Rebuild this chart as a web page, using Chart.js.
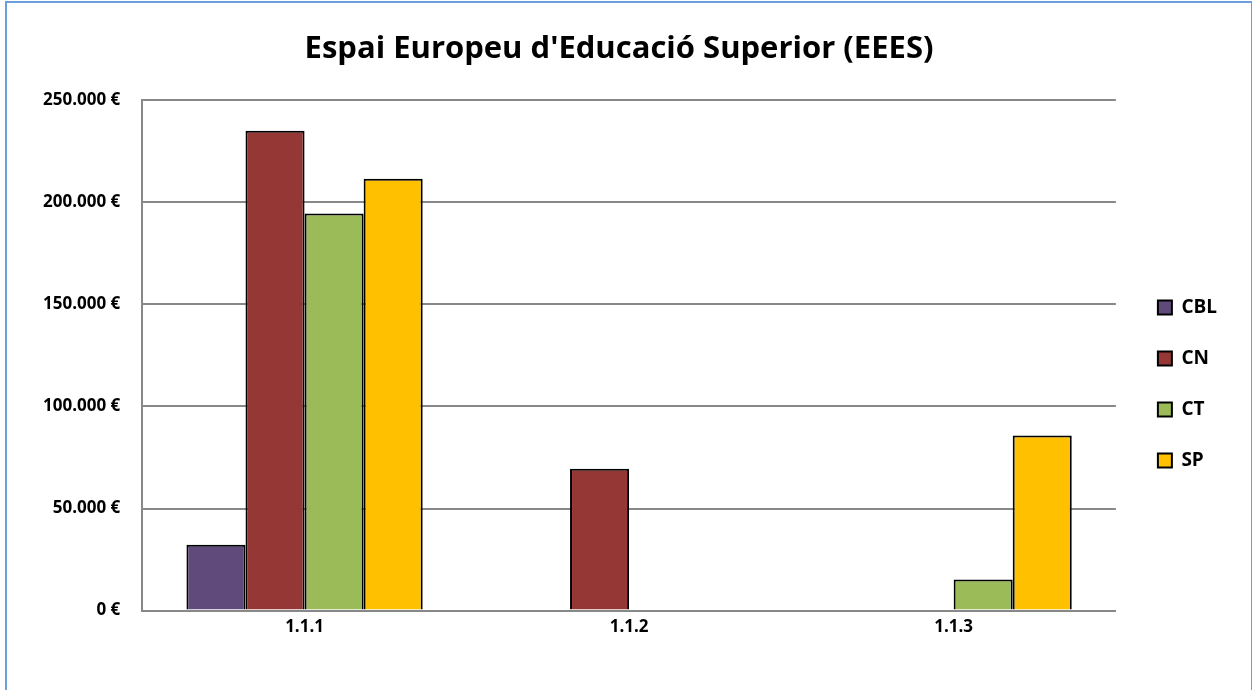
<!DOCTYPE html>
<html>
<head>
<meta charset="utf-8">
<script src="https://cdn.jsdelivr.net/npm/chart.js"></script>
<style>
html, body { margin: 0; padding: 0; background: #fff; overflow: hidden; }
.frame {
    position: absolute;
    left: 5px; top: 1px;
    width: 1244px; height: 700px;
    border: 2px solid #6a9fdc;
}
.chart-container { position: absolute; left: 0; top: 0; width: 1252px; height: 690px; }
</style>
</head>
<body>
<div class="frame"></div>
<div class="chart-container">
    <canvas id="eeesChart"></canvas>
</div>
<script>
// categories and series
const categories = ['1.1.1', '1.1.2', '1.1.3'];
const seriesNames = ['CBL', 'CN', 'CT', 'SP'];
const cbl = [32300, null, null];
const cn = [235000, 69500, null];
const ct = [194500, null, 15200];
const sp = [211500, null, 85800];
const yTicks = [0, 50000, 100000, 150000, 200000, 250000];

const colors = ['#604a7b', '#953735', '#9bbb59', '#ffc000'];
const values = [cbl, cn, ct, sp];

function euro(v) {
    return String(v).replace(/\B(?=(\d{3})+(?!\d))/g, '.') + ' €';
}

const font = "'Open Sans', sans-serif";

// nudge the legend a little to the right, like the original
const legendNudge = {
    id: 'legendNudge',
    afterLayout(chart) {
        chart.legend.left += 10;
        chart.legend.right += 10;
    }
};

new Chart(document.getElementById('eeesChart'), {
    type: 'bar',
    data: {
        labels: categories,
        datasets: seriesNames.map((name, i) => ({
            label: name,
            data: values[i],
            backgroundColor: colors[i],
            borderColor: '#000',
            borderWidth: 2,
            barPercentage: 1,
            categoryPercentage: 0.728
        }))
    },
    options: {
        responsive: true,
        maintainAspectRatio: false,
        animation: false,
        layout: { padding: { left: 21, right: 35, top: 31, bottom: 47 } },
        scales: {
            x: {
                grid: { display: false, drawTicks: false },
                border: { color: '#888', width: 2 },
                ticks: { color: '#000', font: { family: font, size: 17, weight: 'bold' }, padding: 6 }
            },
            y: {
                min: 0,
                max: 250000,
                afterBuildTicks: axis => { axis.ticks = yTicks.map(v => ({ value: v })); },
                grid: { color: '#888', lineWidth: 2, drawTicks: false },
                border: { color: '#888', width: 2 },
                ticks: {
                    color: '#000',
                    padding: 22,
                    font: { family: font, size: 17, weight: 'bold' },
                    callback: v => euro(v)
                }
            }
        },
        plugins: {
            title: {
                display: true,
                text: "Espai Europeu d'Educació Superior (EEES)",
                color: '#000',
                font: { family: font, size: 31, weight: 'bold' },
                padding: { top: 0, bottom: 32 }
            },
            legend: {
                position: 'right',
                title: { display: true, text: ' ', font: { size: 10 }, padding: 41 },
                labels: {
                    color: '#000',
                    font: { family: font, size: 19, weight: 'bold' },
                    boxWidth: 14,
                    boxHeight: 14,
                    padding: 32
                }
            },
            tooltip: { enabled: false }
        }
    },
    plugins: [legendNudge]
});
</script>
</body>
</html>
